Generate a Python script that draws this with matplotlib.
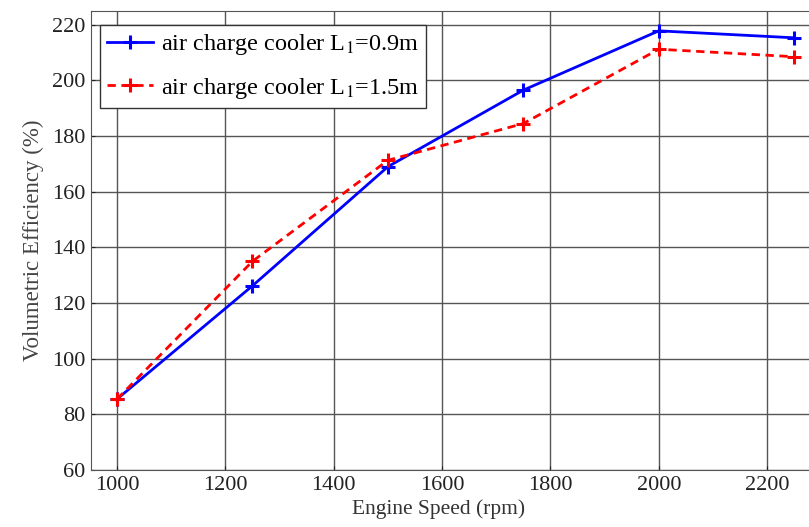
import matplotlib.pyplot as plt
import numpy as np

plt.rcParams['font.family'] = ['Liberation Serif', 'DejaVu Serif']
plt.rcParams['mathtext.fontset'] = 'stix'

speed = [1000, 1250, 1500, 1750, 2000, 2250]
ve_09 = [85.5, 126.2, 169.0, 196.5, 217.8, 215.3]
ve_15 = [85.5, 135.0, 171.3, 184.5, 211.2, 208.5]

fig = plt.figure(figsize=(8.09, 5.27), dpi=100)
ax = fig.add_axes([0.1125, 0.108, 0.896, 0.8715])

ax.plot(speed, ve_09, color='#0000ff', lw=2, marker='+', ms=10, mew=2.2,
        label='air charge cooler L$_1$=0.9m')
ax.plot(speed, ve_15, color='#ff0000', lw=2, ls='--', dashes=(3, 2), marker='+', ms=10, mew=2.2,
        label='air charge cooler L$_1$=1.5m')

ax.set_xlim(952, 2290)
ax.set_ylim(60, 225)
ax.set_xticks(np.arange(1000, 2201, 200))
ax.set_yticks(np.arange(60, 221, 20))
ax.grid(True, color='#555555', lw=1, ls='-')
ax.tick_params(direction='in', length=3, labelsize=16, colors='#222222', pad=4)
for s in ax.spines.values():
    s.set_color('#555555')

ax.set_xlabel('Engine Speed (rpm)', fontsize=15.5, color='#333333')
ax.xaxis.set_label_coords(0.479, -0.064)
ax.set_ylabel('Volumetric Efficiency (%)', fontsize=16.5, color='#444444', labelpad=6)

leg = ax.legend(loc='upper left', fontsize=17.5, frameon=True, fancybox=False,
                edgecolor='#333333', framealpha=1, handlelength=1.9,
                handletextpad=0.3, borderaxespad=0.3, labelspacing=0.75,
                borderpad=0.3, bbox_to_anchor=(0.002, 0.985))
leg.get_frame().set_linewidth(1)

plt.savefig('out.png', dpi=100)
